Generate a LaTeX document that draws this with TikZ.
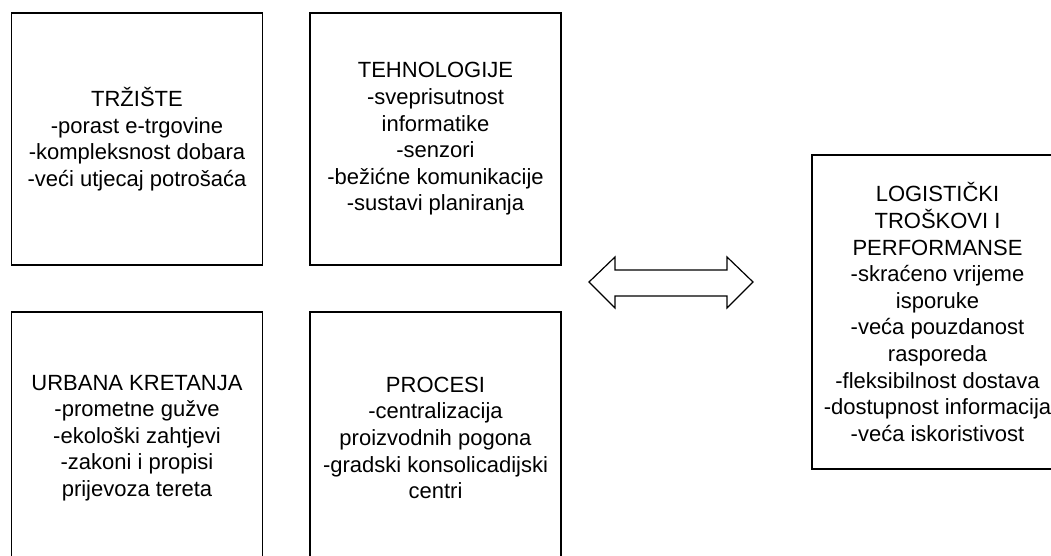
\documentclass[tikz,border=0pt]{standalone}
\usepackage{fontspec}
\setmainfont{Liberation Sans}
\usepackage{tikz}
\tikzstyle{box}=[draw=black, line width=1.2pt, minimum width=251pt, minimum height=252pt, align=center, inner sep=0pt, font=\fontsize{22}{26.6}\selectfont]
\begin{document}
\begin{tikzpicture}[x=1pt, y=-1pt]
    \useasboundingbox (0,0) rectangle (1051,556);

    \node[box] (trziste) at (137,139) {TRŽIŠTE\\-porast e-trgovine\\-kompleksnost dobara\\-veći utjecaj potrošaća};
    \node[box] (tehnologije) at (435.5,139) {TEHNOLOGIJE\\-sveprisutnost\\informatike\\-senzori\\-bežićne komunikacije\\-sustavi planiranja};
    \node[box] (urbana) at (137,438) {URBANA KRETANJA\\-prometne gužve\\-ekološki zahtjevi\\-zakoni i propisi\\prijevoza tereta};
    \node[box] (procesi) at (435.5,438) {PROCESI\\-centralizacija\\proizvodnih pogona\\-gradski konsolicadijski\\centri};
    \node[box, minimum height=314pt] (logistika) at (937.5,312) {LOGISTIČKI\\TROŠKOVI I\\PERFORMANSE\\-skraćeno vrijeme\\isporuke\\-veća pouzdanost\\rasporeda\\-fleksibilnost dostava\\-dostupnost informacija\\-veća iskoristivost};

    % dvostruka strelica
    \draw[line width=1.2pt, line join=miter] (589,282) -- (615,257) -- (615,270) -- (727,270) -- (727,257) -- (753,282)
        -- (727,308) -- (727,296) -- (615,296) -- (615,308) -- cycle;

\end{tikzpicture}
\end{document}
